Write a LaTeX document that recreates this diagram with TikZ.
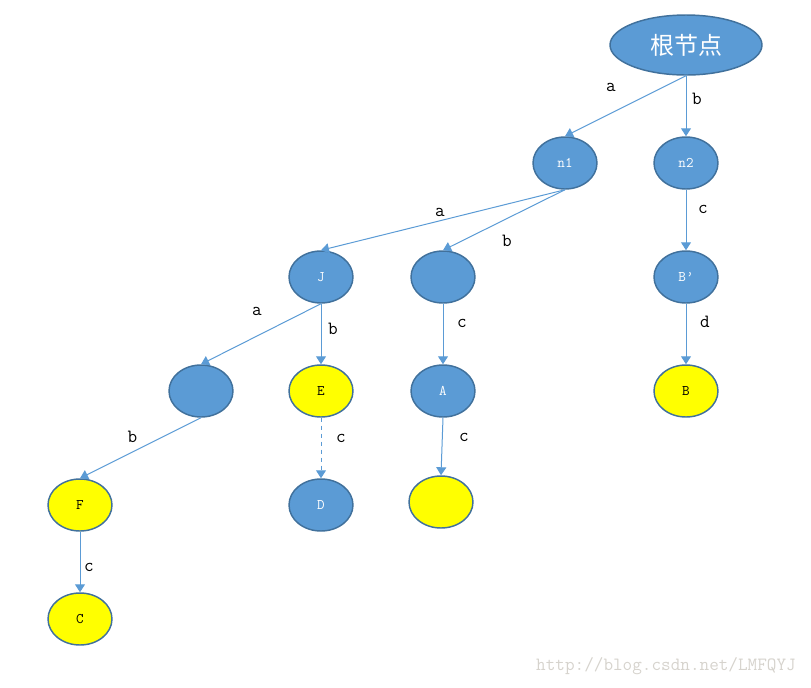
\documentclass[tikz,border=0pt]{standalone}
\usepackage{fontspec}
\newfontfamily\cjkfont{Noto Sans CJK SC}
\usetikzlibrary{arrows.meta,shapes.geometric}
\definecolor{nodeblue}{HTML}{5B9BD5}
\definecolor{rimblue}{HTML}{41719C}
\definecolor{hilite}{HTML}{FFFF00}
\definecolor{markgray}{HTML}{D6D3CD}

\begin{document}
\begin{tikzpicture}[x=0.75pt,y=-0.75pt,
                    every node/.style={inner sep=0pt},
                    state/.style={ellipse,draw=rimblue,line width=1.1pt,fill=nodeblue,
                                  minimum width=48pt,minimum height=39pt,
                                  text=white,font=\ttfamily\fontsize{11}{13}\selectfont},
                    final/.style={state,fill=hilite,text=black},
                    edge/.style={draw=nodeblue,line width=0.75pt,
                                 -{Triangle[length=6pt,width=7.5pt]}},
                    lbl/.style={midway,font=\ttfamily\fontsize{14}{16}\selectfont}]
\useasboundingbox (0,0) rectangle (811,687);

% trie nodes
\node[state,minimum width=114pt,minimum height=45pt,
      font=\cjkfont\fontsize{18}{20}\selectfont] (root) at (686,45) {根节点};
\node[state] (n1) at (565,163) {n1};
\node[state] (n2) at (686,163) {n2};
\node[state] (J)  at (321,277) {J};
\node[state] (m1) at (443,277) {};
\node[state] (Bp) at (686,277) {B’};
\node[state] (m2) at (201,391) {};
\node[final] (E)  at (321,391) {E};
\node[state] (A)  at (443,391) {A};
\node[final] (B)  at (686,391) {B};
\node[final] (F)  at (80,505)  {F};
\node[state] (D)  at (321,505) {D};
\node[final] (m3) at (441,502) {};
\node[final] (C)  at (80,619)  {C};

% transitions
\draw[edge] (root.south) -- (n1.north) node[lbl,shift={(-14.5,-19)}] {a};
\draw[edge] (root.south) -- (n2.north) node[lbl,shift={(11,-7)}] {b};
\draw[edge] (n1.south) -- (J.north)    node[lbl,shift={(-3,-8)}] {a};
\draw[edge] (n1.south) -- (m1.north)   node[lbl,shift={(3,21)}] {b};
\draw[edge] (n2.south) -- (Bp.north)   node[lbl,shift={(17,-11)}] {c};
\draw[edge] (J.south) -- (m2.north)    node[lbl,shift={(-4,-23)}] {a};
\draw[edge] (J.south) -- (E.north)     node[lbl,shift={(12,-5)}] {b};
\draw[edge] (m1.south) -- (A.north)    node[lbl,shift={(19,-11)}] {c};
\draw[edge] (Bp.south) -- (B.north)    node[lbl,shift={(19,-12)}] {d};
\draw[edge] (m2.south) -- (F.north)    node[lbl,shift={(-8,-11)}] {b};
\draw[edge,dashed] (E.south) -- (D.north) node[lbl,shift={(20,-10)}] {c};
\draw[edge] (A.south) -- (m3.north)    node[lbl,shift={(22,-9)}] {c};
\draw[edge] (F.south) -- (C.north)     node[lbl,shift={(9,5)}] {c};

\node[text=markgray,font=\ttfamily\fontsize{14}{16}\selectfont] (mark) at (666,666)
  {http://blog.csdn.net/LMFQYJ};
\end{tikzpicture}
\end{document}
